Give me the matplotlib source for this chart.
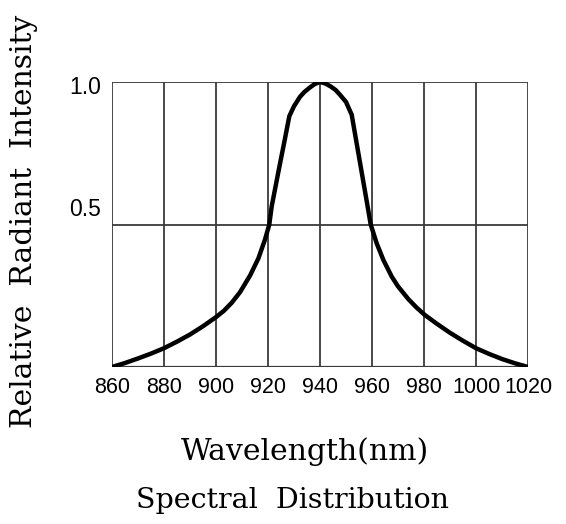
import matplotlib
matplotlib.use("Agg")
import matplotlib.pyplot as plt
import matplotlib.transforms as mtransforms

# Data
wavelength = [860, 865, 870, 875, 880, 885, 890, 895, 900, 903, 906, 909.2, 913.1,
              916.3, 918.8, 920.5, 921.4, 924, 926.5, 928.2, 930, 932.3, 934,
              936, 938, 940,
              942, 944, 946, 947.7, 950, 952.2, 954, 956, 958, 959.5, 961.8,
              964.4, 967.6, 970, 974, 977.2, 980.4, 984.9, 990, 995, 1000, 1005,
              1010, 1015, 1020]
intensity = [0.0, 0.014, 0.03, 0.047, 0.066, 0.089, 0.114, 0.143, 0.175, 0.197,
             0.225, 0.262, 0.321, 0.381, 0.446, 0.50, 0.5625, 0.685, 0.80, 0.88,
             0.915, 0.948, 0.965, 0.98, 0.993, 1.0,
             0.995, 0.985, 0.972, 0.955, 0.93, 0.885, 0.79, 0.685, 0.58, 0.50,
             0.434, 0.375, 0.317, 0.283, 0.238, 0.208, 0.182, 0.152, 0.12,
             0.092, 0.066, 0.046, 0.028, 0.013, 0.0]
x_ticks = [860, 880, 900, 920, 940, 960, 980, 1000, 1020]
y_ticks = [0.5, 1.0]
y_tick_labels = ["0.5", "1.0"]
x_label = "Wavelength(nm)"
y_label = "Relative  Radiant  Intensity"
title = "Spectral  Distribution"

W, H = 566, 524
fig = plt.figure(figsize=(W / 100, H / 100), dpi=100)
ax = fig.add_axes([112 / W, (H - 367) / H, 416 / W, 285 / H])

grid_color = "#3a3a3a"
for xv in x_ticks:
    ax.axvline(xv, color=grid_color, lw=1.3, zorder=1)
for yv in y_ticks:
    ax.axhline(yv, color=grid_color, lw=1.3, zorder=1)

ax.plot(wavelength, intensity, color="black", lw=3.2, solid_joinstyle="round",
        solid_capstyle="round", zorder=3)

ax.set_xlim(860, 1020)
ax.set_ylim(0, 1.0)
for s in ax.spines.values():
    s.set_visible(False)
ax.axhline(0, color=grid_color, lw=1.6, zorder=1)

ax.set_xticks(x_ticks)
ax.set_xticklabels([str(v) for v in x_ticks], fontfamily="Liberation Sans", fontsize=15.5)
ax.set_yticks(y_ticks)
ax.set_yticklabels(y_tick_labels, fontfamily="Liberation Sans", fontsize=16.5)
ax.tick_params(length=0)
ax.tick_params(axis="x", pad=7)
ax.tick_params(axis="y", pad=8)
labs = ax.get_yticklabels()
labs[0].set_transform(labs[0].get_transform() + mtransforms.ScaledTranslation(0, 17 / 100, fig.dpi_scale_trans))
labs[1].set_transform(labs[1].get_transform() + mtransforms.ScaledTranslation(0, -3 / 100, fig.dpi_scale_trans))

fig.text(305 / W, 1 - 452 / H, x_label, fontfamily="DejaVu Serif", fontsize=21.5,
         ha="center", va="center")
fig.text(292 / W, 1 - 500 / H, title, fontfamily="DejaVu Serif", fontsize=20.5,
         ha="center", va="center")
fig.text(24 / W, 1 - 221 / H, y_label, fontfamily="DejaVu Serif", fontsize=21.5,
         ha="center", va="center", rotation=90)

fig.savefig("out.png", dpi=100, facecolor="white")
